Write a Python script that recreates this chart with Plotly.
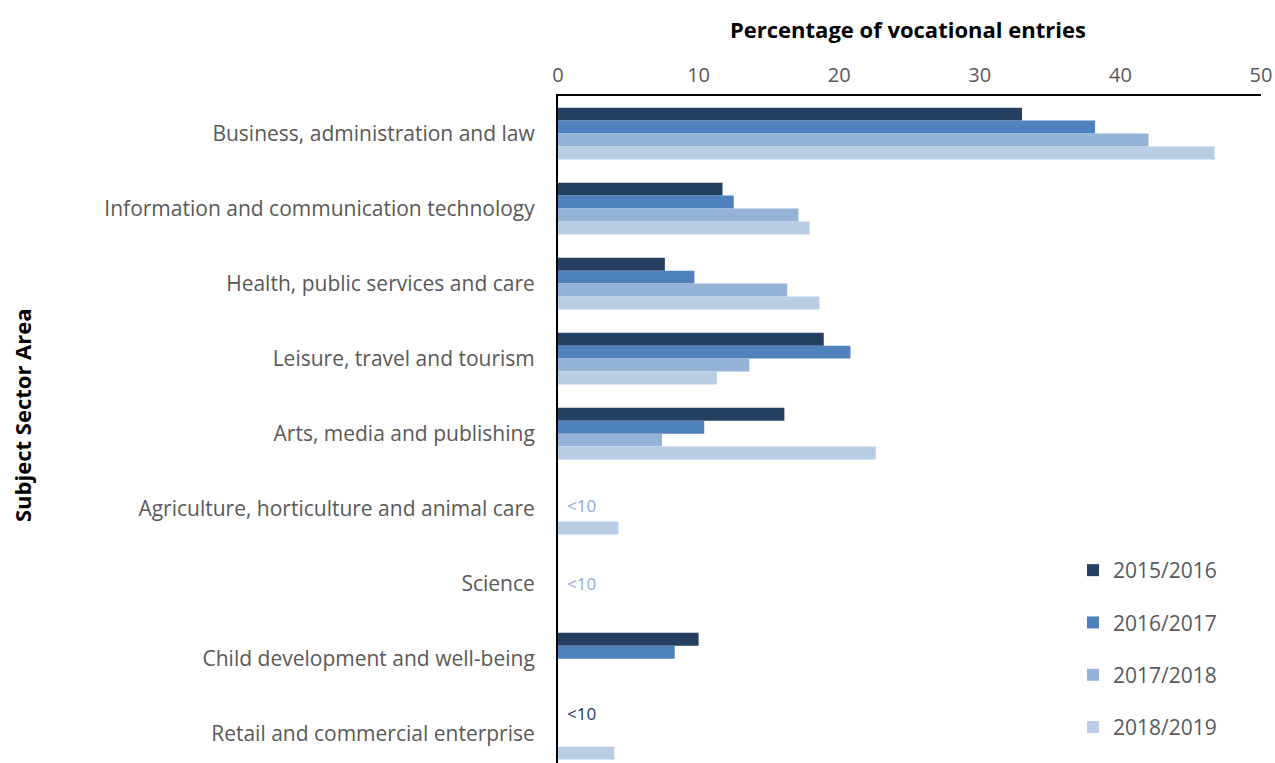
import plotly.graph_objects as go

categories = [
    "Business, administration and law",
    "Information and communication technology",
    "Health, public services and care",
    "Leisure, travel and tourism",
    "Arts, media and publishing",
    "Agriculture, horticulture and animal care",
    "Science",
    "Child development and well-being",
    "Retail and commercial enterprise",
]
years = ["2015/2016", "2016/2017", "2017/2018", "2018/2019"]
v2015 = [33.0, 11.7, 7.6, 18.9, 16.1, None, None, 10.0, None]
v2016 = [38.2, 12.5, 9.7, 20.8, 10.4, None, None, 8.3, None]
v2017 = [42.0, 17.1, 16.3, 13.6, 7.4, None, None, None, None]
v2018 = [46.7, 17.9, 18.6, 11.3, 22.6, 4.3, None, None, 4.0]
x_ticks = [0, 10, 20, 30, 40, 50]
colors = ["#243F60", "#4F81BD", "#95B3D7", "#B9CDE5"]
suppressed = [
    ("Agriculture, horticulture and animal care", "#8EAADB", 3),
    ("Science", "#8EAADB", 0),
    ("Retail and commercial enterprise", "#1F3864", 20),
]

font = "Open Sans"
W, H = 1275, 763
L, T, R = 558, 96, 14
PW, PH = W - L - R, H - T

fig = go.Figure()
for name, vals, c in zip(years, [v2015, v2016, v2017, v2018], colors):
    fig.add_trace(go.Bar(
        y=categories, x=vals, name=name, orientation="h",
        marker=dict(color=c, line=dict(width=0)),
        legendgroup=name,
    ))

for cat, col, shift in suppressed:
    fig.add_annotation(
        x=0.5, y=cat, text="&lt;10", showarrow=False, xanchor="left",
        yshift=shift, font=dict(family=font, size=17, color=col),
    )

fig.add_annotation(
    xref="paper", yref="paper", x=(908 - L) / PW, y=(H - 29) / PH,
    text="<b>Percentage of vocational entries</b>", showarrow=False,
    xanchor="center", yanchor="middle",
    font=dict(family=font, size=22, color="black"),
)
fig.add_annotation(
    xref="paper", yref="paper", x=(22 - L) / PW, y=(H - 415) / PH,
    text="<b>Subject Sector Area</b>", showarrow=False, textangle=-90,
    xanchor="center", yanchor="middle",
    font=dict(family=font, size=22, color="black"),
)

fig.update_layout(
    width=W, height=H,
    margin=dict(l=L, r=R, t=T, b=0, autoexpand=False),
    paper_bgcolor="white", plot_bgcolor="white",
    barmode="group", bargap=0.31, bargroupgap=0,
    font=dict(family=font, color="#595959"),
    xaxis=dict(
        side="top", range=[0, 50], tickvals=x_ticks,
        showgrid=False, zeroline=False, showline=True, linecolor="black",
        linewidth=2, ticks="", tickfont=dict(size=20, color="#595959"),
        ticklabelstandoff=4, automargin=False,
    ),
    yaxis=dict(
        categoryorder="array", categoryarray=categories,
        range=[8.39, -0.5], showgrid=False, zeroline=False,
        showline=True, linecolor="black", linewidth=2, ticks="",
        tickfont=dict(size=21, color="#595959"), ticklabelstandoff=17,
        automargin=False,
    ),
    legend=dict(
        xref="container", yref="container",
        x=1073 / W, y=(H - 550) / H, yanchor="top", xanchor="left",
        font=dict(size=21, color="#595959"),
        tracegroupgap=22, itemwidth=30, bgcolor="rgba(0,0,0,0)",
    ),
    showlegend=True,
)
fig.write_html(
    "out.html",
    config={"displayModeBar": False},
    post_script="document.body.style.margin='0';"
                "document.documentElement.style.overflow='hidden';",
)
